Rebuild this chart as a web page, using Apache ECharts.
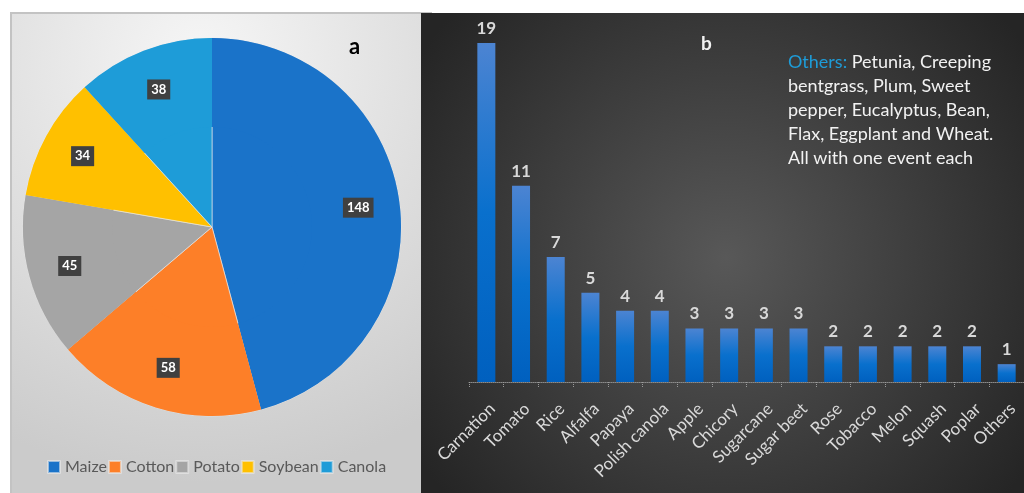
<!DOCTYPE html>
<html>
<head>
<meta charset="utf-8">
<script src="https://cdn.jsdelivr.net/npm/echarts@6/dist/echarts.min.js"></script>
<style>
  html, body { margin: 0; padding: 0; background: #fff; }
  #chart { width: 1024px; height: 493px; }
</style>
</head>
<body>
<div id="chart"></div>
<script>
// pie (a): GM events by major crop
var pieNames = ['Maize', 'Cotton', 'Potato', 'Soybean', 'Canola'];
var pieValues = [148, 58, 45, 34, 38];
var pieColors = ['#1a73c9', '#fd7f28', '#a5a5a5', '#ffc000', '#1e9cd8'];

// bars (b): other crops
var barNames = ['Carnation', 'Tomato', 'Rice', 'Alfalfa', 'Papaya', 'Polish canola', 'Apple', 'Chicory',
    'Sugarcane', 'Sugar beet', 'Rose', 'Tobacco', 'Melon', 'Squash', 'Poplar', 'Others'];
var barValues = [19, 11, 7, 5, 4, 4, 3, 3, 3, 3, 2, 2, 2, 2, 2, 1];

var font = 'Lato, "Open Sans", sans-serif';

var pieData = [];
for (var i = 0; i < pieNames.length; i++) {
    pieData.push({ name: pieNames[i], value: pieValues[i], itemStyle: { color: pieColors[i] } });
}

var chart = echarts.init(document.getElementById('chart'));
var option = {
    backgroundColor: '#fff',
    animation: false,
    textStyle: { fontFamily: font },
    graphic: [
        // left panel
        {
            type: 'rect', z: -10,
            shape: { x: 11, y: 13, width: 420, height: 490 },
            style: {
                fill: new echarts.graphic.RadialGradient(0.45, 0.1, 1.0, [
                    { offset: 0, color: '#f6f6f6' },
                    { offset: 1, color: '#cbcbcb' }
                ]),
                stroke: '#c3c3c3', lineWidth: 2
            }
        },
        // right panel
        {
            type: 'rect', z: -9,
            shape: { x: 421, y: 13, width: 610, height: 490 },
            style: {
                fill: new echarts.graphic.RadialGradient(0.5, 0.5, 0.75, [
                    { offset: 0, color: '#585858' },
                    { offset: 1, color: '#252525' }
                ])
            }
        },
        {
            type: 'text', left: 349, top: 36,
            style: { text: 'a', font: 'bold 22px ' + font, fill: '#000' }
        },
        {
            type: 'text', left: 701, top: 34,
            style: { text: 'b', font: 'bold 19px ' + font, fill: '#f2f2f2' }
        },
        {
            type: 'text', left: 788, top: 50,
            style: {
                text: '{o|Others:} Petunia, Creeping\nbentgrass, Plum, Sweet\npepper, Eucalyptus, Bean,\nFlax, Eggplant and Wheat.\nAll with one event each',
                font: '18px ' + font,
                fill: '#f2f2f2',
                lineHeight: 24,
                rich: {
                    o: { fill: '#1e9cd8', font: '18px ' + font }
                }
            }
        }
    ],
    legend: {
        left: 42, top: 454,
        itemWidth: 12, itemHeight: 12, itemGap: 1,
        icon: 'rect',
        data: pieNames,
        textStyle: { color: '#595959', fontSize: 16, fontFamily: font }
    },
    grid: { left: 469, top: 43, width: 564, height: 339 },
    xAxis: {
        type: 'category',
        data: barNames,
        axisLine: { lineStyle: { color: '#8a8a8a', type: 'dotted', width: 1 } },
        axisTick: { show: true, length: 6, lineStyle: { color: '#9a9a9a', type: 'dotted' } },
        axisLabel: {
            rotate: 45, interval: 0, margin: 18,
            verticalAlign: 'top',
            color: '#d9d9d9', fontSize: 17, fontFamily: font
        }
    },
    yAxis: { type: 'value', min: 0, max: 19, show: false, splitLine: { show: false } },
    series: [
        {
            type: 'pie',
            center: [212, 227],
            radius: 189,
            startAngle: 90,
            clockwise: true,
            data: pieData,
            label: { show: false },
            labelLine: { show: false },
            itemStyle: { borderColor: 'rgba(235,235,235,0.6)', borderWidth: 1 },
            emphasis: { disabled: true }
        },
        {
            // transparent ring, only to place the value boxes
            type: 'pie',
            center: [212, 227],
            radius: [100, 189],
            startAngle: 90,
            clockwise: true,
            data: pieData,
            itemStyle: { color: 'rgba(0,0,0,0)', borderWidth: 0 },
            label: {
                show: true, position: 'inside',
                formatter: '{c}',
                color: '#fff', fontWeight: 'bold', fontSize: 13,
                backgroundColor: '#404040', padding: [4, 4, 3, 4]
            },
            labelLine: { show: false },
            legendHoverLink: false,
            silent: true,
            emphasis: { disabled: true }
        },
        {
            type: 'bar',
            data: barValues,
            barWidth: 18,
            itemStyle: {
                color: new echarts.graphic.LinearGradient(0, 0, 0, 1, [
                    { offset: 0, color: '#4c84d2' },
                    { offset: 0.5, color: '#0970cd' },
                    { offset: 1, color: '#0060bf' }
                ])
            },
            label: {
                show: true, position: 'top', distance: 6,
                color: '#d9d9d9', fontWeight: 'bold', fontSize: 17, fontFamily: font
            }
        }
    ]
};
chart.setOption(option);
</script>
</body>
</html>
